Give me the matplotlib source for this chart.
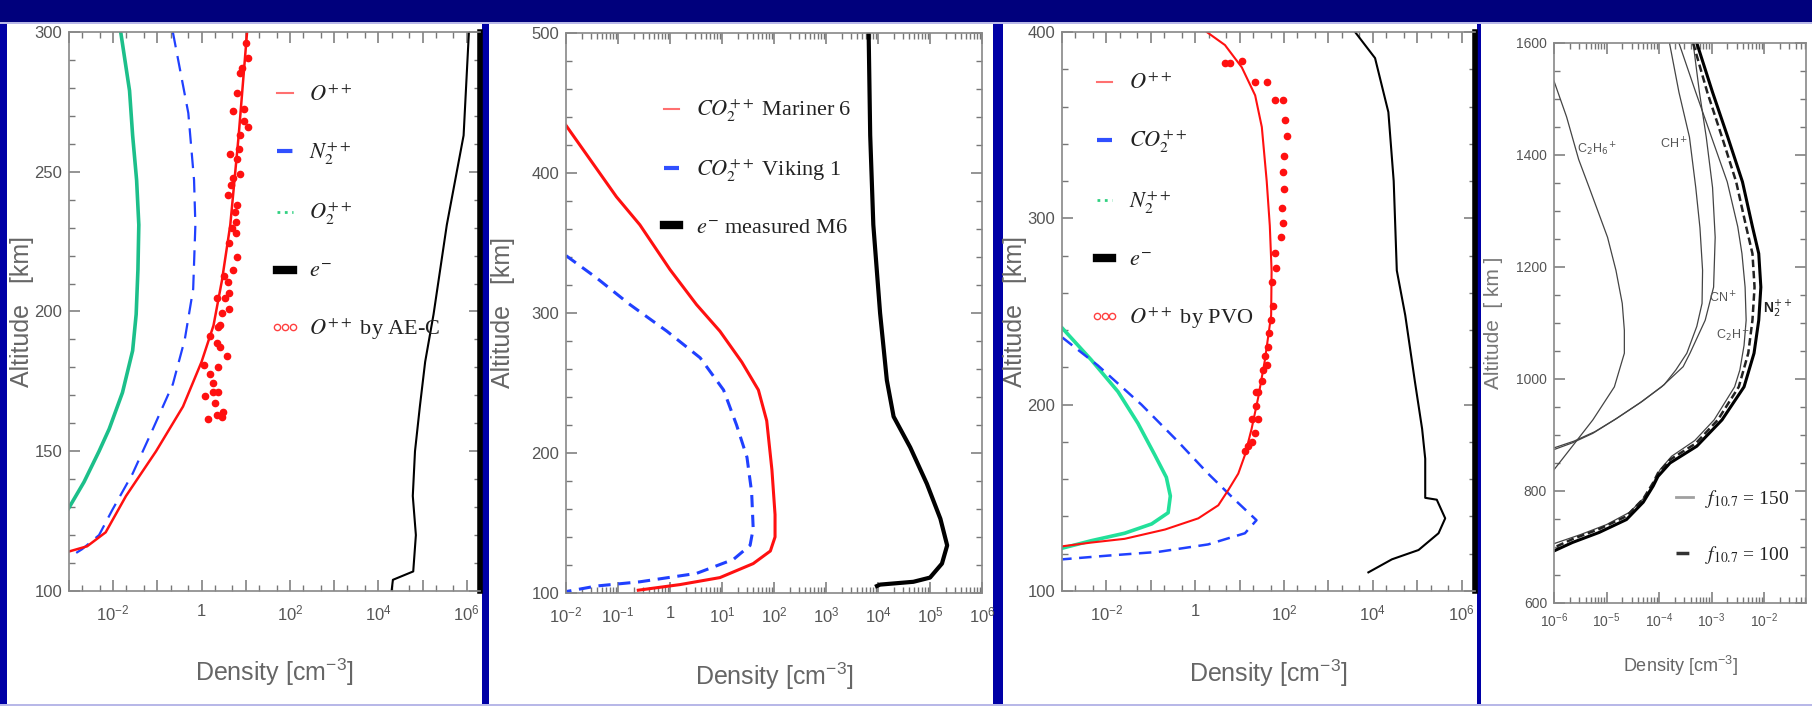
import numpy as np
import matplotlib
matplotlib.use("Agg")
import matplotlib.pyplot as plt
from matplotlib import ticker
from matplotlib.lines import Line2D
from matplotlib.patches import Rectangle
from matplotlib.font_manager import FontProperties

plt.rcParams['font.family'] = ['Liberation Sans', 'DejaVu Sans']

# ---------------- panel 1 : altitude [km], log10 density [cm-3]
p1_o2_alt = [300, 279, 263, 247, 231, 215, 199, 186, 171, 158, 150, 139, 129]
p1_o2_log = [-1.83, -1.63, -1.56, -1.47, -1.42, -1.44, -1.48, -1.56, -1.79, -2.09, -2.32, -2.66, -3.03]
p1_n2_alt = [300, 271, 247, 231, 208, 190, 174, 158, 142, 129, 120, 115, 112]
p1_n2_log = [-0.65, -0.30, -0.17, -0.14, -0.19, -0.38, -0.65, -1.10, -1.56, -2.02, -2.32, -2.70, -3.0]
p1_o_alt = [300, 263, 231, 211, 195, 182, 166, 150, 134, 121, 116, 114]
p1_o_log = [1.03, 0.84, 0.65, 0.46, 0.27, 0.0, -0.42, -1.03, -1.71, -2.17, -2.59, -3.03]
p1_e_alt = [300, 263, 247, 231, 199, 182, 166, 150, 134, 120, 107, 104, 100]
p1_e_log = [6.05, 5.93, 5.74, 5.55, 5.25, 5.06, 4.94, 4.83, 4.78, 4.85, 4.79, 4.33, 4.30]
p1_aec_alt = [296.0, 290.7, 287.1, 285.5, 278.3, 272.6, 265.9, 268.1, 271.8, 263.0, 258.1, 254.6,
              256.5, 249.3, 247.7, 245.2, 241.7, 238.0, 235.6, 232.0, 230.0, 228.0, 224.6, 219.5,
              214.7, 212.7, 210.6, 206.6, 205.0, 205.0, 201.0, 199.4, 195.3, 194.5, 191.3, 188.9,
              187.3, 184.1, 180.0, 180.8, 177.6, 174.4, 171.2, 169.6, 171.2, 167.1, 163.9, 163.1,
              161.5, 162.3]
p1_aec_log = [1.01, 1.04, 0.91, 0.87, 0.81, 0.97, 1.06, 0.95, 0.72, 0.86, 0.84, 0.81,
              0.65, 0.86, 0.72, 0.67, 0.59, 0.81, 0.75, 0.78, 0.68, 0.78, 0.61, 0.80,
              0.72, 0.51, 0.59, 0.63, 0.53, 0.34, 0.61, 0.46, 0.42, 0.38, 0.19, 0.34,
              0.42, 0.57, 0.38, 0.05, 0.19, 0.27, 0.38, 0.08, 0.27, 0.30, 0.49, 0.34,
              0.15, 0.46]

# ---------------- panel 2
p2_m6_alt = [434, 383, 363, 331, 306, 287, 265, 245, 223, 188, 156, 140, 130, 121, 111, 106, 102]
p2_m6_log = [-2.0, -1.03, -0.58, 0.0, 0.51, 0.96, 1.38, 1.70, 1.86, 1.96, 2.02, 2.02, 1.93, 1.60, 0.96, 0.19, -0.61]
p2_v1_alt = [341, 325, 306, 287, 268, 245, 220, 197, 172, 146, 134, 124, 114, 108, 105, 101]
p2_v1_log = [-2.0, -1.41, -0.77, -0.06, 0.58, 1.03, 1.28, 1.48, 1.57, 1.60, 1.54, 1.22, 0.51, -0.58, -1.41, -2.0]
p2_e_alt = [500, 427, 363, 300, 252, 226, 204, 178, 153, 134, 121, 111, 108, 106, 105]
p2_e_log = [3.82, 3.85, 3.91, 4.04, 4.17, 4.30, 4.62, 4.94, 5.20, 5.33, 5.23, 5.00, 4.68, 4.04, 3.98]

# ---------------- panel 3
p3_o_alt = [400, 393, 381, 366, 349, 320, 296, 272, 248, 224, 204, 187, 173, 163, 154, 146, 139, 133, 128, 126, 124]
p3_o_log = [0.26, 0.67, 1.05, 1.35, 1.50, 1.61, 1.68, 1.72, 1.71, 1.57, 1.42, 1.27, 1.12, 0.97, 0.74,
            0.52, 0.07, -0.68, -1.59, -2.34, -2.99]
p3_n2_alt = [241, 224, 207, 190, 173, 161, 151, 142, 136, 131, 127, 123]
p3_n2_log = [-2.99, -2.34, -1.74, -1.29, -0.91, -0.65, -0.56, -0.61, -0.98, -1.59, -2.34, -2.99]
p3_co2_alt = [236, 221, 200, 180, 163, 149, 138, 131, 125, 121, 119, 117]
p3_co2_log = [-2.99, -2.19, -1.21, -0.38, 0.29, 0.89, 1.38, 1.12, 0.29, -0.83, -1.96, -2.99]
p3_e_alt = [400, 386, 357, 320, 272, 248, 212, 187, 171, 150, 149, 139, 131, 122, 117, 110]
p3_e_log = [3.60, 4.05, 4.35, 4.47, 4.54, 4.73, 4.95, 5.11, 5.18, 5.18, 5.44, 5.63, 5.48, 5.03, 4.43, 3.90]
p3_pvo_alt = [383.6, 383.6, 384.3, 373.4, 373.4, 363.3, 363.3, 352.9, 344.4, 333.6, 325.1, 315.9,
              305.8, 297.3, 290.1, 281.6, 273.2, 265.9, 252.7, 245.4, 238.2, 230.9, 226.1, 218.8,
              212.8, 206.8, 199.5, 192.3, 185.0, 180.2, 177.8, 175.4, 192.3, 206.8, 221.3]
p3_pvo_log = [0.67, 0.78, 1.05, 1.35, 1.61, 1.80, 1.98, 2.02, 2.06, 2.01, 1.98, 2.01,
              1.95, 1.98, 1.93, 1.80, 1.83, 1.72, 1.76, 1.71, 1.66, 1.65, 1.57, 1.53,
              1.50, 1.42, 1.38, 1.42, 1.35, 1.27, 1.20, 1.12, 1.27, 1.38, 1.61]

# ---------------- panel 4
p4_n2_150_alt = [1600, 1512, 1432, 1352, 1272, 1224, 1164, 1105, 1046, 986, 927, 880, 850, 826, 809, 780, 749, 726, 708, 693]
p4_n2_150_log = [-3.28, -2.98, -2.69, -2.41, -2.22, -2.10, -2.06, -2.10, -2.19, -2.38, -2.80, -3.28, -3.79,
                 -4.02, -4.11, -4.30, -4.62, -5.14, -5.65, -6.0]
p4_n2_100_alt = [1600, 1512, 1432, 1352, 1272, 1224, 1164, 1105, 1046, 986, 927, 885, 856, 832, 815, 786, 755, 732, 714, 699]
p4_n2_100_log = [-3.35, -3.08, -2.80, -2.53, -2.34, -2.22, -2.18, -2.22, -2.30, -2.48, -2.88, -3.30, -3.79,
                 -4.02, -4.11, -4.30, -4.62, -5.14, -5.65, -6.0]
p4_c2h_alt = [1600, 1512, 1432, 1352, 1272, 1224, 1164, 1105, 1060, 1016, 986, 927, 890, 862, 838, 820, 792, 762, 740, 722, 706]
p4_c2h_log = [-3.62, -3.30, -3.00, -2.70, -2.50, -2.42, -2.36, -2.34, -2.38, -2.46, -2.56, -2.95, -3.32,
              -3.76, -3.98, -4.08, -4.24, -4.56, -5.0, -5.5, -6.0]
p4_cn_alt = [1600, 1512, 1432, 1342, 1253, 1164, 1105, 1046, 1022, 986, 957, 927, 903, 886, 874]
p4_cn_log = [-3.35, -3.23, -3.10, -2.98, -2.93, -2.96, -3.12, -3.41, -3.54, -3.95, -4.37, -4.85, -5.26, -5.65, -6.0]
p4_ch_alt = [1600, 1512, 1432, 1342, 1270, 1194, 1135, 1094, 1046, 1016, 990, 960, 930, 906, 889, 877]
p4_ch_log = [-3.80, -3.62, -3.42, -3.30, -3.22, -3.17, -3.18, -3.28, -3.47, -3.68, -3.90, -4.32, -4.80,
             -5.22, -5.62, -6.0]
p4_c2h6_alt = [1532, 1468, 1392, 1342, 1253, 1194, 1135, 1087, 1046, 986, 927, 880, 838]
p4_c2h6_log = [-6.0, -5.76, -5.53, -5.33, -4.98, -4.82, -4.70, -4.66, -4.66, -4.85, -5.26, -5.65, -6.0]

W, H = 1812, 706
fig = plt.figure(figsize=(W / 100, H / 100), dpi=100, facecolor='#0000a6')


def px_rect(x0, y0, x1, y1, color):
    fig.add_artist(Rectangle((x0 / W, 1 - y1 / H), (x1 - x0) / W, (y1 - y0) / H, transform=fig.transFigure,
                             facecolor=color, edgecolor='none', zorder=-5))


px_rect(0, 0, W, 22, '#00007c')
px_rect(0, 22, W, 24, '#b8b8e8')
for x0, x1 in [(7, 482), (489, 993), (1003, 1477), (1481, W)]:
    px_rect(x0, 24, x1, 704, 'white')
px_rect(0, 704, W, H, '#b8b8e8')


def add_axes(l, t, r, b):
    return fig.add_axes([l / W, 1 - b / H, (r - l) / W, (b - t) / H])


def decade_fmt(every):
    def fmt(v, pos):
        e = int(round(np.log10(v)))
        if e % every:
            return ''
        if e == 0:
            return '1'
        return r'$\mathregular{10^{%d}}$' % e
    return ticker.FuncFormatter(fmt)


def style(ax, xlim, ylim, ystep, yminor, every, subs, lsize, xlab_y, ylab_x, lab_size):
    ax.set_xscale('log')
    ax.set_xlim(*xlim)
    ax.set_ylim(*ylim)
    ax.xaxis.set_major_locator(ticker.LogLocator(base=10, numticks=30))
    ax.xaxis.set_minor_locator(ticker.LogLocator(base=10, subs=subs, numticks=30))
    ax.xaxis.set_major_formatter(decade_fmt(every))
    ax.xaxis.set_minor_formatter(ticker.NullFormatter())
    ax.yaxis.set_major_locator(ticker.MultipleLocator(ystep))
    ax.yaxis.set_minor_locator(ticker.MultipleLocator(yminor))
    ax.tick_params(which='both', direction='in', top=True, right=True, color='#777',
                   labelcolor='#555', labelsize=lsize)
    ax.tick_params(which='major', length=8, width=1.1)
    ax.tick_params(which='minor', length=4, width=1)
    ax.tick_params(axis='x', pad=9)
    ax.tick_params(axis='y', pad=5)
    for s in ax.spines.values():
        s.set_color('#888')
        s.set_linewidth(1.2)
    ax.set_xlabel(r'Density [cm$^{\mathregular{-3}}$]', fontsize=lab_size, color='#666')
    ax.set_ylabel('Altitude   [km]', fontsize=lab_size, color='#666')
    ax.xaxis.set_label_coords(0.5, xlab_y)
    ax.yaxis.set_label_coords(ylab_x, 0.5)


def add_legend(ax, handles, labels, anchor, size, spacing, hl=1.3, pad=0.45):
    leg = ax.legend(handles, labels, loc='upper left', bbox_to_anchor=anchor, frameon=False,
                    prop=FontProperties(family=['Liberation Serif', 'DejaVu Serif'], size=size,
                                        math_fontfamily='stix'),
                    handlelength=hl, handletextpad=pad, labelspacing=spacing, borderpad=0,
                    borderaxespad=0, numpoints=3)
    for t in leg.get_texts():
        t.set_color('#222')


def lg(color, ls='-', lw=1.5):
    return Line2D([], [], color=color, ls=ls, lw=lw)


dots = Line2D([], [], ls='none', marker='o', ms=4.5, mfc='none', mec='#ff4040', mew=1)
RED, BLUE, GREEN = '#ff1010', '#2040ff', '#1cbf8a'

# ---------------- panel 1
ax1 = add_axes(69, 32, 480, 591)
ax1.plot(10 ** np.array(p1_o2_log), p1_o2_alt, color=GREEN, lw=2.6)
ax1.plot(10 ** np.array(p1_n2_log), p1_n2_alt, color=BLUE, lw=1.6, dashes=(7, 4))
ax1.plot(10 ** np.array(p1_o_log), p1_o_alt, color=RED, lw=1.8)
ax1.plot(10 ** np.array(p1_e_log), p1_e_alt, color='black', lw=1.5)
ax1.plot(10 ** np.array(p1_aec_log), p1_aec_alt, ls='none', marker='o', ms=4.5, color=RED)
style(ax1, (1e-3, 2e6), (100, 300), 50, 10, 2, (2, 5), 12, -0.118, -0.085, 18)
ax1.spines['right'].set_color('black')
ax1.spines['right'].set_linewidth(4)
add_legend(ax1, [lg('#ff7070'), lg('#3050ff', '--', 3), lg('#30d080', ':', 2), lg('black', '-', 6), dots],
           [r'$O^{++}$', r'$N_2^{++}$', r'$O_2^{++}$', r'$e^{-}$', r'$O^{++}$ by AE-C'],
           (0.49, 0.905), 16, 1.55)

# ---------------- panel 2
ax2 = add_axes(566, 33, 982, 593)
ax2.plot(10 ** np.array(p2_m6_log), p2_m6_alt, color=RED, lw=2.2)
ax2.plot(10 ** np.array(p2_v1_log), p2_v1_alt, color=BLUE, lw=2.2, dashes=(4, 2.5))
ax2.plot(10 ** np.array(p2_e_log), p2_e_alt, color='black', lw=3)
style(ax2, (1e-2, 1e6), (100, 500), 100, 20, 1, np.arange(2, 10), 12, -0.121, -0.123, 18)
add_legend(ax2, [lg('#ff7070'), lg('#3050ff', '--', 3), lg('black', '-', 6)],
           [r'$CO_2^{++}$ Mariner 6', r'$CO_2^{++}$ Viking 1', r'$e^{-}$ measured M6'],
           (0.219, 0.884), 16, 1.5)

# ---------------- panel 3
ax3 = add_axes(1062, 32, 1475, 591)
ax3.plot(10 ** np.array(p3_n2_log), p3_n2_alt, color='#22e09a', lw=2.6)
ax3.plot(10 ** np.array(p3_co2_log), p3_co2_alt, color=BLUE, lw=1.8, dashes=(5, 3))
ax3.plot(10 ** np.array(p3_o_log), p3_o_alt, color=RED, lw=1.5)
ax3.plot(10 ** np.array(p3_e_log), p3_e_alt, color='black', lw=1.5)
ax3.plot(10 ** np.array(p3_pvo_log), p3_pvo_alt, ls='none', marker='o', ms=4.5, color=RED)
style(ax3, (1e-3, 2e6), (100, 400), 100, 20, 2, (2, 5), 12, -0.12, -0.085, 18)
ax3.spines['right'].set_color('black')
ax3.spines['right'].set_linewidth(4)
add_legend(ax3, [lg('#ff7070'), lg('#3050ff', '--', 3), lg('#30d080', ':', 2), lg('black', '-', 6), dots],
           [r'$O^{++}$', r'$CO_2^{++}$', r'$N_2^{++}$', r'$e^{-}$', r'$O^{++}$ by PVO'],
           (0.068, 0.925), 16, 1.55)

# ---------------- panel 4
ax4 = add_axes(1554, 43, 1806, 603)
thin = dict(color='#444', lw=0.9)
ax4.plot(10 ** np.array(p4_c2h6_log), p4_c2h6_alt, **thin)
ax4.plot(10 ** np.array(p4_ch_log), p4_ch_alt, **thin)
ax4.plot(10 ** np.array(p4_cn_log), p4_cn_alt, **thin)
ax4.plot(10 ** np.array(p4_c2h_log), p4_c2h_alt, **thin)
ax4.plot(10 ** np.array(p4_n2_100_log), p4_n2_100_alt, color='#222', lw=1.8, dashes=(3, 1.5))
ax4.plot(10 ** np.array(p4_n2_150_log), p4_n2_150_alt, color='black', lw=2.2)
style(ax4, (1e-6, 10 ** -1.2), (600, 1600), 200, 50, 1, np.arange(2, 10), 10, -0.09, -0.202, 13)
ax4.set_ylabel('Altitude  [ km ]', fontsize=15, color='#777')
ax4.tick_params(axis='x', pad=6)
ann = dict(fontsize=9, color='#555')
ax4.text(10 ** -5.56, 1403, r'C$_2$H$_6$$^+$', **ann)
ax4.text(10 ** -3.98, 1411, r'CH$^+$', **ann)
ax4.text(10 ** -3.05, 1136, r'CN$^+$', **ann)
ax4.text(10 ** -2.92, 1071, r'C$_2$H$^+$', **ann)
ax4.text(10 ** -2.02, 1118, r'N$_2^{++}$', fontsize=10, color='#222', fontweight='bold')
add_legend(ax4, [lg('#a0a0a0', '-', 2), lg('#333', '--', 2.5)],
           [r'$f_{10.7}$ = 150', r'$f_{10.7}$ = 100'], (0.46, 0.205), 14, 1.75, hl=1.5, pad=0.3)

fig.savefig('out.png', dpi=100, facecolor=fig.get_facecolor())
